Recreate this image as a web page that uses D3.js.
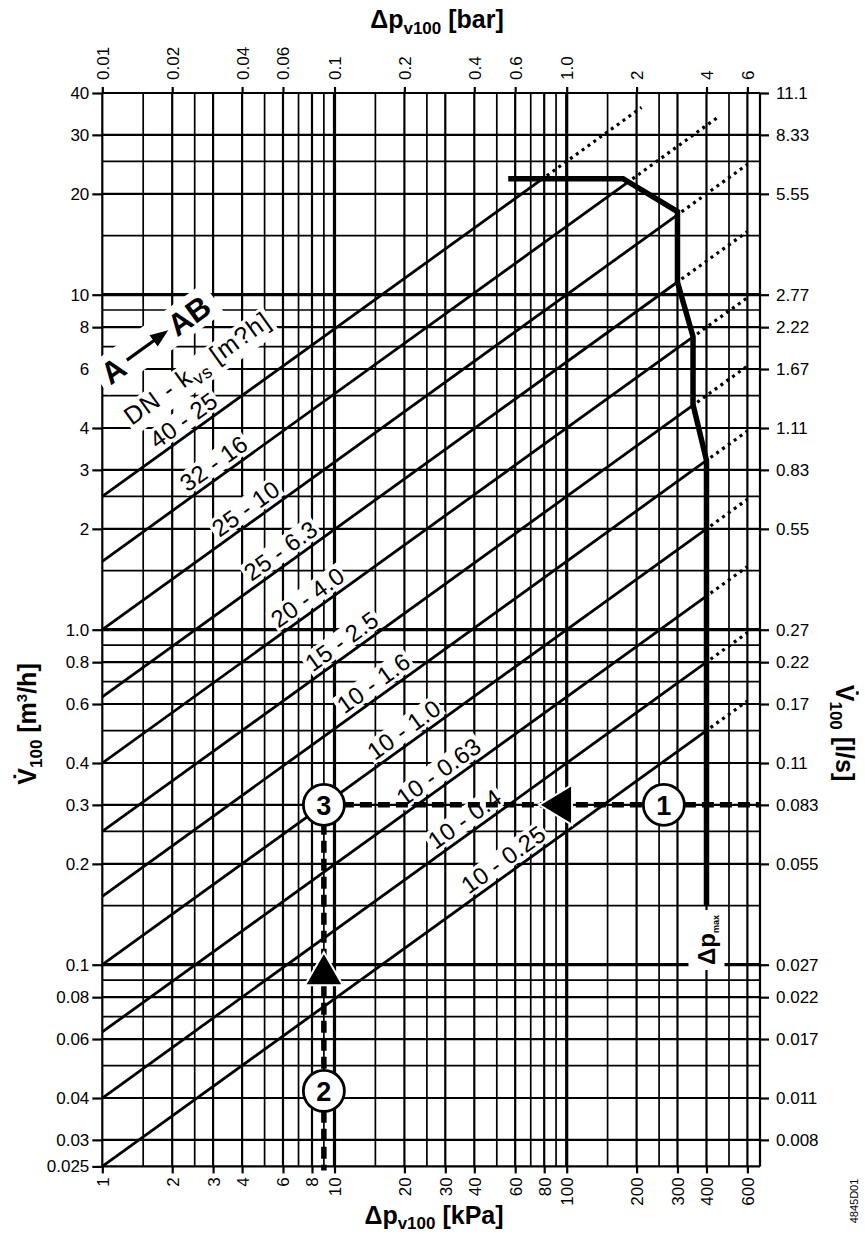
<!DOCTYPE html>
<html>
<head>
<meta charset="utf-8">
<script src="https://cdn.jsdelivr.net/npm/d3@7"></script>
<style>
  body { margin: 0; background: #fff; }
  svg text { font-family: "Liberation Sans", Arial, sans-serif; fill: #000; }
</style>
</head>
<body>
<div id="chart"></div>
<script>
// --- data ---
const kvsValues = [25, 16, 10, 6.3, 4.0, 2.5, 1.6, 1.0, 0.63, 0.4, 0.25];
const kvsLabels = ['40 - 25', '32 - 16', '25 - 10', '25 - 6.3', '20 - 4.0', '15 - 2.5',
                   '10 - 1.6', '10 - 1.0', '10 - 0.63', '10 - 0.4', '10 - 0.25'];
const dottedEnd = [210, 450, 600, 600, 600, 600, 600, 600, 600, 600, 600];   // kPa
const pmaxDp = [56, 175, 300, 300, 350, 350, 400, 400];                       // kPa
const pmaxV = [22.2, 22.2, 17.7, 10.9, 7.5, 4.7, 3.2, 0.15];                  // m3/h

const gridKpa = [1, 1.5, 2, 2.5, 3, 4, 5, 6, 7, 8, 9, 10, 15, 20, 25, 30, 40, 50, 60, 70, 80, 90,
                 100, 150, 200, 250, 300, 400, 500, 600];
const gridFlow = [40, 30, 25, 20, 15, 10, 9, 8, 7, 6, 5, 4, 3, 2.5, 2, 1.5,
                  1, 0.9, 0.8, 0.7, 0.6, 0.5, 0.4, 0.3, 0.25, 0.2, 0.15,
                  0.1, 0.09, 0.08, 0.07, 0.06, 0.05, 0.04, 0.03, 0.025];

const kpaTicks = [1, 2, 3, 4, 6, 8, 10, 20, 30, 40, 60, 80, 100, 200, 300, 400, 600];
const barTicks = [0.01, 0.02, 0.04, 0.06, 0.1, 0.2, 0.4, 0.6, 1.0, 2, 4, 6];
const barLabels = ['0.01', '0.02', '0.04', '0.06', '0.1', '0.2', '0.4', '0.6', '1.0', '2', '4', '6'];
const flowTicks = [40, 30, 20, 10, 8, 6, 4, 3, 2, 1, 0.8, 0.6, 0.4, 0.3, 0.2, 0.1, 0.08, 0.06, 0.04, 0.03, 0.025];
const flowLabels = ['40', '30', '20', '10', '8', '6', '4', '3', '2', '1.0', '0.8', '0.6', '0.4', '0.3',
                    '0.2', '0.1', '0.08', '0.06', '0.04', '0.03', '0.025'];
const lsTicks = [40, 30, 20, 10, 8, 6, 4, 3, 2, 1, 0.8, 0.6, 0.4, 0.3, 0.2, 0.1, 0.08, 0.06, 0.04, 0.03];
const lsLabels = ['11.1', '8.33', '5.55', '2.77', '2.22', '1.67', '1.11', '0.83', '0.55', '0.27',
                  '0.22', '0.17', '0.11', '0.083', '0.055', '0.027', '0.022', '0.017', '0.011', '0.008'];

// worked example: points 1-2-3 and arrows
const markers = [{ n: '1', p: 262, v: 0.3 }, { n: '2', p: 9, v: 0.042 }, { n: '3', p: 9, v: 0.3 }];
const arrows = [{ dir: 'left', p: 90, v: 0.3 }, { dir: 'up', p: 9, v: 0.097 }];
const example = { p: 9, v: 0.3 };

// --- layout ---
const W = 865, H = 1236;
const labelAt = [2.43, 3.28, 4.5, 6.37, 8.32, 11.67, 16.0, 21.6, 30.5, 39.5, 58];   // kPa along each line
const x = d3.scaleLog().domain([1, 680]).range([102.3, 760]);
const y = d3.scaleLog().domain([0.025, 40]).range([1166.4, 93]);
const x0 = x.range()[0], x1 = x.range()[1], yTop = y.range()[1], yBot = y.range()[0];
const angle = -Math.atan((y(1) - y(10)) / 2 / (x(100) - x(10))) * 180 / Math.PI;

const flow = (k, p) => k * Math.sqrt(p / 100);

function crossPmax(k) {
  const f = (p, v) => Math.log10(v) - Math.log10(k) - 0.5 * (Math.log10(p) - 2);
  for (let i = 0; i < pmaxDp.length - 1; i++) {
    const a = f(pmaxDp[i], pmaxV[i]), b = f(pmaxDp[i + 1], pmaxV[i + 1]);
    if (a === 0) return pmaxDp[i];
    if (a * b < 0 || b === 0) {
      const t = a / (a - b);
      const l0 = Math.log10(pmaxDp[i]), l1 = Math.log10(pmaxDp[i + 1]);
      return Math.pow(10, l0 + t * (l1 - l0));
    }
  }
  return x.domain()[1];
}

const svg = d3.select('#chart').append('svg').attr('width', W).attr('height', H);
svg.append('rect').attr('width', W).attr('height', H).attr('fill', '#fff');

// grid
const vWidth = d => (d === 10 || d === 100) ? 3.2 : (kpaTicks.includes(d) ? 2.2 : 1.7);
const hWidth = d => (d === 10 || d === 1 || d === 0.1) ? 3.2 : (flowTicks.includes(d) ? 2.2 : 1.7);

svg.append('g').selectAll('line').data(gridKpa).join('line')
  .attr('x1', d => x(d)).attr('x2', d => x(d))
  .attr('y1', yTop).attr('y2', yBot)
  .attr('stroke', '#000').attr('stroke-width', vWidth);
svg.append('line').attr('x1', x1).attr('x2', x1).attr('y1', yTop).attr('y2', yBot)
  .attr('stroke', '#000').attr('stroke-width', 2.2);
svg.append('g').selectAll('line').data(gridFlow).join('line')
  .attr('x1', x0).attr('x2', x1)
  .attr('y1', d => y(d)).attr('y2', d => y(d))
  .attr('stroke', '#000').attr('stroke-width', hWidth);

// axes
function styleAxis(g) {
  g.attr('font-family', null).attr('font-size', 17);
  g.select('.domain').remove();
  g.selectAll('.tick line').attr('stroke', '#000').attr('stroke-width', 2.2);
  g.selectAll('.tick text').attr('fill', '#000');
}
svg.append('g').attr('transform', `translate(${x0},0)`)
  .call(d3.axisLeft(y).tickValues(flowTicks).tickFormat((d, i) => flowLabels[i]).tickSize(10).tickPadding(3))
  .call(styleAxis);
svg.append('g').attr('transform', `translate(${x1},0)`)
  .call(d3.axisRight(y).tickValues(lsTicks).tickFormat((d, i) => lsLabels[i]).tickSize(9).tickPadding(7))
  .call(styleAxis);
svg.append('g').attr('transform', `translate(0,${yBot})`)
  .call(d3.axisBottom(x).tickValues(kpaTicks).tickFormat(d3.format('')).tickSize(7))
  .call(styleAxis)
  .selectAll('.tick text')
  .attr('transform', 'rotate(-90)').attr('x', -11).attr('y', 0).attr('dy', '0.35em')
  .attr('text-anchor', 'end');
const xBar = x.copy().domain(x.domain().map(d => d / 100));
svg.append('g').attr('transform', `translate(0,${yTop})`)
  .call(d3.axisTop(xBar).tickValues(barTicks).tickFormat((d, i) => barLabels[i]).tickSize(6))
  .call(styleAxis)
  .selectAll('.tick text')
  .attr('transform', 'rotate(-90)').attr('x', 13).attr('y', 0).attr('dy', '0.35em')
  .attr('text-anchor', 'start');

// kvs labels (white boxes first, lines on top)
const labelLayer = svg.append('g');
const lineGen = d3.line().x(d => x(d[0])).y(d => y(d[1]));
const rad = angle * Math.PI / 180;
const off = 14.5;
kvsValues.forEach((k, i) => {
  const p = labelAt[i];
  const cx = x(p) + off * Math.sin(rad), cy = y(flow(k, p)) - off * Math.cos(rad);
  const g = labelLayer.append('g').attr('transform', `translate(${cx},${cy}) rotate(${angle})`);
  const t = g.append('text').attr('text-anchor', 'middle').attr('dy', '0.36em')
    .attr('font-size', 24).attr('letter-spacing', 0.3).text(kvsLabels[i]);
  const bb = t.node().getBBox();
  g.insert('rect', 'text').attr('x', bb.x - 2).attr('y', bb.y + 2)
    .attr('width', bb.width + 4).attr('height', bb.height - 4).attr('fill', '#fff');
});

// DN - kvs caption and A -> AB
{
  const g = labelLayer.append('g').attr('transform', `translate(197,368) rotate(${angle})`);
  const t = g.append('text').attr('text-anchor', 'middle').attr('dy', '0.36em')
    .attr('font-size', 25).attr('letter-spacing', 1.1);
  t.append('tspan').text('DN - k');
  t.append('tspan').attr('font-size', 18).attr('dy', 6).text('vs');
  t.append('tspan').attr('dy', -6).text(' [m?h]');
  const bb = t.node().getBBox();
  g.insert('rect', 'text').attr('x', bb.x - 2).attr('y', bb.y + 2)
    .attr('width', bb.width + 4).attr('height', bb.height - 2).attr('fill', '#fff');

  const g2 = labelLayer.append('g').attr('transform', `translate(152,342) rotate(${angle})`);
  g2.append('rect').attr('x', -66).attr('y', -18).attr('width', 142).attr('height', 36).attr('fill', '#fff');
  g2.append('text').attr('x', -48).attr('dy', '0.36em').attr('text-anchor', 'middle')
    .attr('font-size', 31).attr('font-weight', 'bold').text('A');
  g2.append('line').attr('x1', -31).attr('x2', 6).attr('y1', 0).attr('y2', 0)
    .attr('stroke', '#000').attr('stroke-width', 3.2);
  g2.append('path').attr('d', 'M2,-7 L20,0 L2,7 Z').attr('fill', '#000');
  g2.append('text').attr('x', 23).attr('dy', '0.36em').attr('text-anchor', 'start')
    .attr('font-size', 31).attr('font-weight', 'bold').text('AB');
}

// kvs lines: solid up to dp max, dotted beyond
const lineLayer = svg.append('g');
kvsValues.forEach((k, i) => {
  const pEnd = crossPmax(k);
  lineLayer.append('path')
    .attr('d', lineGen([[1, flow(k, 1)], [pEnd, flow(k, pEnd)]]))
    .attr('fill', 'none').attr('stroke', '#000').attr('stroke-width', 2.8);
  lineLayer.append('path')
    .attr('d', lineGen([[pEnd, flow(k, pEnd)], [dottedEnd[i], flow(k, dottedEnd[i])]]))
    .attr('fill', 'none').attr('stroke', '#000').attr('stroke-width', 3.2)
    .attr('stroke-dasharray', '3,4.2').attr('stroke-dashoffset', -5);
});

// dp max curve
lineLayer.append('path')
  .attr('d', lineGen(pmaxDp.map((p, i) => [p, pmaxV[i]])))
  .attr('fill', 'none').attr('stroke', '#000').attr('stroke-width', 5.5).attr('stroke-linejoin', 'miter');

// dp max label
{
  const g = svg.append('g').attr('transform', `translate(${x(400)},940) rotate(-90)`);
  g.append('rect').attr('x', -30).attr('y', -18).attr('width', 60).attr('height', 36).attr('fill', '#fff');
  const t = g.append('text').attr('text-anchor', 'middle').attr('dy', '0.36em')
    .attr('font-size', 24).attr('font-weight', 'bold');
  t.append('tspan').text('Δp');
  t.append('tspan').attr('font-size', 9).attr('dy', 4).text('max');
}

// worked example: dashed construction lines
const dash = svg.append('g');
dash.append('line')
  .attr('x1', x(example.p)).attr('x2', x1)
  .attr('y1', y(example.v)).attr('y2', y(example.v))
  .attr('stroke', '#000').attr('stroke-width', 5.5).attr('stroke-dasharray', '12,6');
dash.append('line')
  .attr('x1', x(example.p)).attr('x2', x(example.p))
  .attr('y1', y(example.v)).attr('y2', yBot + 4)
  .attr('stroke', '#000').attr('stroke-width', 5.5).attr('stroke-dasharray', '12,6');

arrows.forEach(a => {
  const ax = x(a.p), ay = y(a.v);
  const d = a.dir === 'left'
    ? `M${ax - 17},${ay} L${ax + 16},${ay - 20} L${ax + 16},${ay + 20} Z`
    : `M${ax},${ay - 17} L${ax - 19},${ay + 16} L${ax + 19},${ay + 16} Z`;
  dash.append('path').attr('d', d).attr('fill', '#000').attr('stroke', '#fff').attr('stroke-width', 2);
});

const mk = svg.append('g').selectAll('g').data(markers).join('g')
  .attr('transform', d => `translate(${x(d.p)},${y(d.v)})`);
mk.append('circle').attr('r', 20.5).attr('fill', '#fff').attr('stroke', '#000').attr('stroke-width', 2.8);
mk.append('text').attr('text-anchor', 'middle').attr('dy', '0.36em')
  .attr('font-size', 27).attr('font-weight', 'bold').text(d => d.n);

// axis titles
const topT = svg.append('text').attr('x', 437).attr('y', 28).attr('text-anchor', 'middle')
  .attr('font-size', 25).attr('font-weight', 'bold');
topT.append('tspan').text('Δp');
topT.append('tspan').attr('font-size', 17).attr('dy', 6).text('v100');
topT.append('tspan').attr('dy', -6).text(' [bar]');

const botT = svg.append('text').attr('x', 434).attr('y', 1224).attr('text-anchor', 'middle')
  .attr('font-size', 25).attr('font-weight', 'bold');
botT.append('tspan').text('Δp');
botT.append('tspan').attr('font-size', 17).attr('dy', 5).text('v100');
botT.append('tspan').attr('dy', -5).text(' [kPa]');

const leftT = svg.append('text').attr('transform', 'translate(36,724) rotate(-90)')
  .attr('text-anchor', 'middle').attr('font-size', 25).attr('font-weight', 'bold');
leftT.append('tspan').text('V\u0307');
leftT.append('tspan').attr('font-size', 17).attr('dy', 6).text('100');
leftT.append('tspan').attr('dy', -6).text(' [m');
leftT.append('tspan').attr('font-size', 15).attr('dy', -9).text('3');
leftT.append('tspan').attr('dy', 9).text('/h]');

const rightT = svg.append('text').attr('transform', 'translate(836,733) rotate(90)')
  .attr('text-anchor', 'middle').attr('font-size', 25).attr('font-weight', 'bold');
rightT.append('tspan').text('V\u0307');
rightT.append('tspan').attr('font-size', 17).attr('dy', 6).text('100');
rightT.append('tspan').attr('dy', -6).text(' [l/s]');

svg.append('text').attr('transform', 'translate(858,1201) rotate(-90)')
  .attr('text-anchor', 'middle').attr('font-size', 11).text('4845D01');
</script>
</body>
</html>
